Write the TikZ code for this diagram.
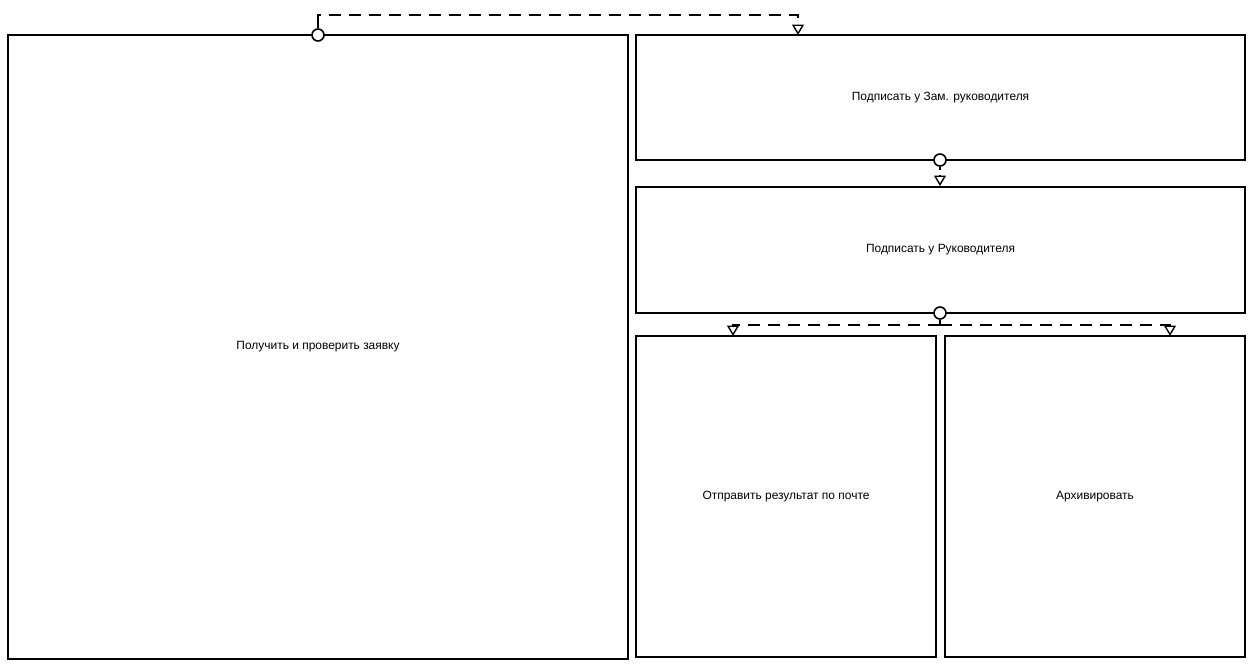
\documentclass[tikz,border=0pt]{standalone}
\usepackage{fontspec}
\setmainfont{Liberation Sans}
\usetikzlibrary{positioning}
\usetikzlibrary{arrows.meta}

\begin{document}
\begin{tikzpicture}[
    x=0.2mm, y=-0.2mm, % one unit = one pixel of the layout
    font=\fontsize{6.8}{8}\selectfont
  ]

  \tikzset{
    block/.style={draw, line width=1.1pt, fill=white, align=center, inner sep=0pt},
    port/.style={draw, circle, line width=0.9pt, fill=white, minimum size=0.24cm, inner sep=0pt},
    flow/.style={line width=0.8pt, dash pattern=on 0.24cm off 0.16cm,
      -{Triangle[open, fill=white, width=0.24cm, length=0.21cm, line width=0.8pt]}},
    stub/.style={line width=0.8pt}
  }

  \useasboundingbox (0,0) rectangle (1256,666);

  % Work blocks
  \node (get)  [block, minimum width=12.4cm,  minimum height=12.48cm] at (318,347)   {Получить и проверить заявку};
  \node (zam)  [block, minimum width=12.18cm, minimum height=2.5cm]   at (940.5,97.5) {Подписать у Зам. руководителя};
  \node (head) [block, minimum width=12.18cm, minimum height=2.52cm]  at (940.5,250)  {Подписать у Руководителя};
  \node (mail) [block, minimum width=6cm,     minimum height=6.42cm]  at (786,496.5)  {Отправить результат по почте};
  \node (arch) [block, minimum width=6cm,     minimum height=6.42cm]  at (1095,496.5) {Архивировать};

  % Junction points
  \coordinate (j1) at (318,15);
  \coordinate (s1) at (318,24);
  \coordinate (s2) at (940,170);
  \coordinate (s2b) at (940,175);
  \coordinate (j3) at (940,325);
  \coordinate (in1) at (798,35);
  \coordinate (in3a) at (733,336);
  \coordinate (in3b) at (1170,336);

  % Links
  \node (p1) [port] at (318,35) {};
  \node (p2) [port] at (940,160) {};
  \node (p3) [port] at (940,313) {};

  \draw[stub] (p1.north) -- (s1);
  \draw[flow] (s1) |- (in1 |- j1) -- (in1);

  \draw[stub] (p2.south) -- (s2);
  \draw[flow] (s2b) -- (s2b |- head.north);

  \draw[stub] (p3.south) -- (j3);
  \draw[flow] (j3) -| (in3a);
  \draw[flow] (j3) -| (in3b);

\end{tikzpicture}
\end{document}
